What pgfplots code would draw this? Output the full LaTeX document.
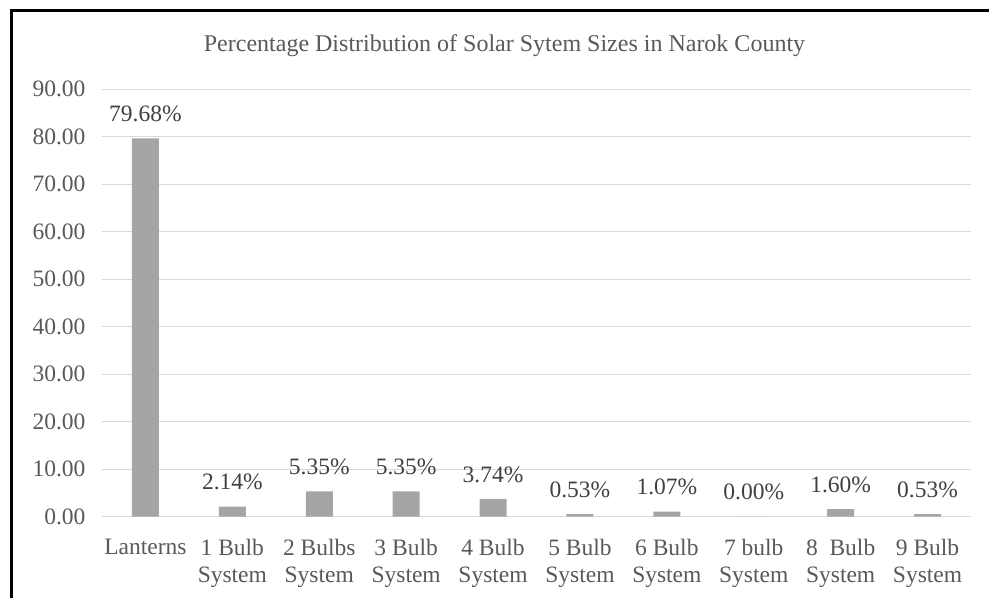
\documentclass[border=0pt]{standalone}
\usepackage{pgfplots}
\pgfplotsset{compat=1.18}
\usepackage{fontspec}
\setmainfont{Liberation Serif}

\definecolor{txtgray}{HTML}{595959}
\definecolor{lblgray}{HTML}{404040}
\definecolor{bargray}{HTML}{A5A5A5}
\definecolor{gridgray}{HTML}{D9D9D9}

\begin{document}
\begin{tikzpicture}[x=1bp,y=1bp]
\path[use as bounding box] (0,0) rectangle (989,598);
% frame along the left and top edges
\draw[line width=3bp, line cap=rect] (11,0) -- (11,587.3) -- (989,587.3);

\begin{axis}[
  at={(102bp,81.3bp)}, anchor=south west,
  scale only axis,
  width=869bp, height=427.4bp,
  xmin=-0.5, xmax=9.5,
  ymin=0, ymax=90,
  ytick={0,10,...,90},
  xtick={0,...,9},
  xticklabels={Lanterns,1 Bulb\\System,2 Bulbs\\System,3 Bulb\\System,4 Bulb\\System,5 Bulb\\System,6 Bulb\\System,7 bulb\\System,8~~Bulb\\System,9 Bulb\\System},
  xticklabel style={align=center, font=\fontsize{23.5bp}{27bp}\selectfont, text=txtgray, anchor=north, yshift=-19bp},
  yticklabel style={font=\fontsize{23.5bp}{27bp}\selectfont, text=txtgray, xshift=-13bp},
  /pgf/number format/assume math mode=true,
  yticklabel={\pgfmathprintnumber[fixed, fixed zerofill, precision=2]{\tick}},
  axis line style={draw=none},
  major tick length=0pt,
  ymajorgrids=true,
  grid style={gridgray, line width=1.3bp},
  extra y ticks={0},
  extra y tick labels={},
  extra y tick style={grid style={gridgray, line width=1.3bp}},
  clip=false,
]
\addplot[ybar, bar width=27bp, fill=bargray, draw=none,
  nodes near coords={\pgfmathprintnumber[fixed, fixed zerofill, precision=2, assume math mode=true]{\pgfplotspointmeta}\%},
  every node near coord/.append style={font=\fontsize{23.5bp}{27bp}\selectfont, text=lblgray, anchor=south, yshift=13bp},
] coordinates {
  (0,79.68) (1,2.14) (2,5.35) (3,5.35) (4,3.74)
  (5,0.53) (6,1.07) (7,0.00) (8,1.60) (9,0.53)
};
\end{axis}

\node[anchor=base, text=txtgray, font=\fontsize{24bp}{28bp}\selectfont] at (504.5,546.3) {Percentage Distribution of Solar Sytem Sizes in Narok County};
\end{tikzpicture}
\end{document}
